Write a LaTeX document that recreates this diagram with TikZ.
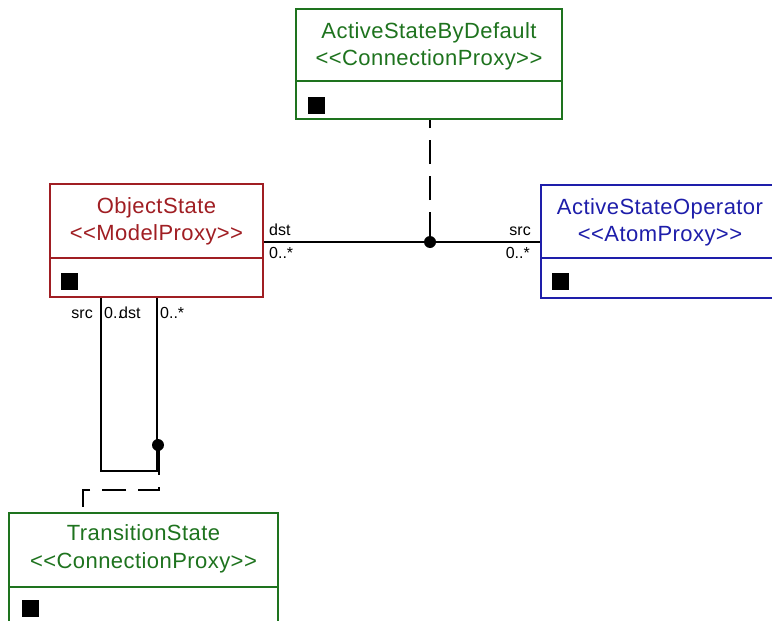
\documentclass[tikz,border=0pt]{standalone}
\usepackage{fontspec}
\setmainfont[Ligatures=TeXOff]{Liberation Sans}
\definecolor{umlgreen}{RGB}{30,115,30}
\definecolor{umlred}{RGB}{160,30,35}
\definecolor{umlblue}{RGB}{30,30,170}
\begin{document}
\begin{tikzpicture}[x=1pt,y=-1pt,
  classbox/.style={draw, line width=1.4pt, inner sep=0pt},
  titletext/.style={anchor=base, inner sep=0pt, font=\fontsize{22}{26}\selectfont\addfontfeature{LetterSpace=2}},
  multlabel/.style={inner sep=0pt, font=\fontsize{16}{19}\selectfont},
  attrsq/.style={fill=black, minimum size=17pt, inner sep=0pt},
  assoc/.style={line width=1.4pt},
  dashlink/.style={line width=1.6pt, dash pattern=on 30pt off 12pt on 24pt off 12pt on 24pt off 12pt on 24pt off 12pt},
  junction/.style={circle, fill=black, minimum size=12pt, inner sep=0pt}]
\clip (0,0) rectangle (772,621);
\fill[white] (0,0) rectangle (772,621);
% ActiveStateByDefault
\node[classbox, umlgreen, minimum width=266pt, minimum height=110pt] (asbd) at (429,64) {};
\draw[umlgreen, line width=1.4pt] (asbd.west |- 0,81) -- (asbd.east |- 0,81);
\node[titletext, umlgreen] (asbdt1) at (429,38) {ActiveStateByDefault};
\node[titletext, umlgreen] (asbdt2) at (429,65) {<<ConnectionProxy>>};
\node[attrsq] (asbdsq) at (316.5,105) {};
% ObjectState
\node[classbox, umlred, minimum width=213pt, minimum height=113pt] (os) at (156.5,240.5) {};
\draw[umlred, line width=1.4pt] (os.west |- 0,258) -- (os.east |- 0,258);
\node[titletext, umlred] (ost1) at (156.5,213) {ObjectState};
\node[titletext, umlred] (ost2) at (156.5,240) {<<ModelProxy>>};
\node[attrsq] (ossq) at (69.5,281.5) {};
% ActiveStateOperator
\node[classbox, umlblue, minimum width=238pt, minimum height=113pt] (aso) at (660,241.5) {};
\draw[umlblue, line width=1.4pt] (aso.west |- 0,258) -- (aso.east |- 0,258);
\node[titletext, umlblue] (asot1) at (660,214) {ActiveStateOperator};
\node[titletext, umlblue] (asot2) at (660,241) {<<AtomProxy>>};
\node[attrsq] (asosq) at (560.5,281.5) {};
% TransitionState
\node[classbox, umlgreen, minimum width=269pt, minimum height=130pt] (ts) at (143.5,578) {};
\draw[umlgreen, line width=1.4pt] (ts.west |- 0,587) -- (ts.east |- 0,587);
\node[titletext, umlgreen] (tst1) at (143.5,540) {TransitionState};
\node[titletext, umlgreen] (tst2) at (143.5,568) {<<ConnectionProxy>>};
\node[attrsq] (tssq) at (30,608.5) {};
% association ObjectState -- ActiveStateOperator
\draw[assoc] (os.east |- 0,242) -- (aso.west |- 0,242);
\node[junction] (j1) at (430,242) {};
\draw[dashlink] (j1.center) -- (j1.center |- asbd.south);
\node[multlabel, anchor=base west] (l1a) at (269,235) {dst};
\node[multlabel, anchor=base west] (l1b) at (269,258) {0..*};
\node[multlabel, anchor=base east] (l1c) at (531,235) {src};
\node[multlabel, anchor=base east] (l1d) at (530,258) {0..*};
% self association on ObjectState
\coordinate (lp1) at (101,471);
\coordinate (lp2) at (157,471);
\draw[assoc] (os.south -| lp1) -- (lp1) -- (lp2) -- (os.south -| lp2);
\node[junction] (j2) at (158,445) {};
\coordinate (c1) at (159,490);
\coordinate (c2) at (83,490);
\draw[dashlink] (159,445) -- (c1) -- (c2) -- (c2 |- ts.north);
\node[multlabel, anchor=base east] (l2a) at (93,318) {src};
\node[multlabel, anchor=base west] (l2b) at (104,318) {0..};
\node[multlabel, anchor=base west] (l2c) at (119,318) {dst};
\node[multlabel, anchor=base west] (l2d) at (160,318) {0..*};
\end{tikzpicture}
\end{document}
